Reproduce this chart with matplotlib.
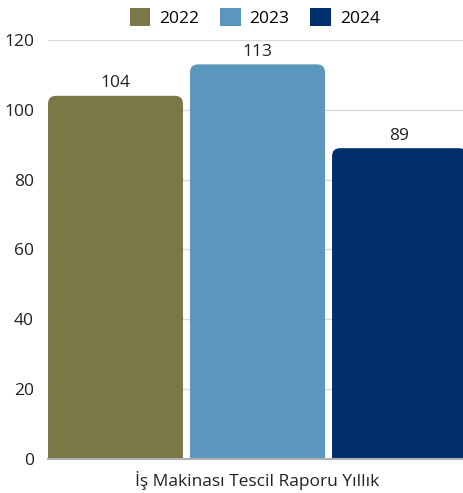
import matplotlib.pyplot as plt
from matplotlib.patches import FancyBboxPatch, Patch

plt.rcParams['font.family'] = ['Open Sans', 'DejaVu Sans']

#data
category = "İş Makinası Tescil Raporu Yıllık"
years = ["2022", "2023", "2024"]
values = [104, 113, 89]
colors = ["#7b7848", "#5b97bd", "#002f6c"]

fig = plt.figure(figsize=(4.63, 4.93), dpi=100)
ax = fig.add_axes([0.1037, 0.069, 0.8963, 0.850])

#bar geometry in data units (1 unit = one bar width)
bar_w = 1.0
gap = 0.052
xmin, xmax = -0.5, 2.574
ymin, ymax = 0, 120
ax.set_xlim(xmin, xmax)
ax.set_ylim(ymin, ymax)

#keep rounded corners circular on screen
x_per_px = (xmax - xmin) / (0.8963 * 463)
y_per_px = (ymax - ymin) / (0.850 * 493)
aspect = y_per_px / x_per_px
radius = 8 * x_per_px

for i, (v, c) in enumerate(zip(values, colors)):
    x = i * (bar_w + gap)
    box = FancyBboxPatch((x - bar_w / 2, -10), bar_w, v + 10,
                         boxstyle=f"round,pad=0,rounding_size={radius}",
                         mutation_aspect=aspect, facecolor=c, edgecolor="none", zorder=3)
    ax.add_patch(box)
    ax.text(x, v + 1.3, str(v), ha="center", va="bottom", fontsize=12.5, color="#222222", zorder=4)

#axes styling
ax.set_yticks(range(0, 121, 20))
ax.grid(axis="y", color="#d9d9d9", linewidth=1, zorder=0)
for s in ["left", "right", "top"]:
    ax.spines[s].set_visible(False)
ax.spines["bottom"].set_color("#b0b0b0")
ax.spines["bottom"].set_linewidth(1.5)
ax.spines["bottom"].set_zorder(5)
ax.tick_params(axis="y", length=0, pad=10, labelsize=12.5, labelcolor="#222222")
ax.set_xticks([1 * (bar_w + gap)])
ax.set_xticklabels([category])
ax.tick_params(axis="x", length=0, pad=9, labelsize=12.5, labelcolor="#222222")

#legend
handles = [Patch(facecolor=c, edgecolor="none", label=y) for y, c in zip(years, colors)]
fig.legend(handles=handles, loc="upper center", bbox_to_anchor=(0.55, 1.015), ncol=3,
           frameon=False, fontsize=12.5, handlelength=1.2, handleheight=1.2,
           handletextpad=0.5, columnspacing=1.2)

plt.savefig("out.png", dpi=100)
plt.close()
